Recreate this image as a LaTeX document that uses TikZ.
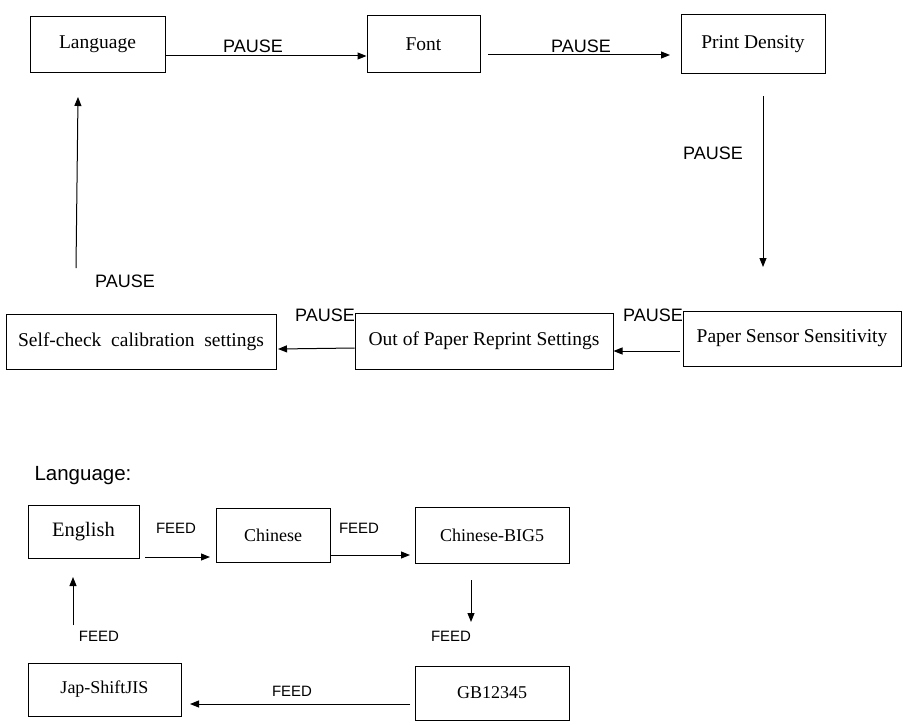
\documentclass[tikz,border=0pt]{standalone}
\usepackage{fontspec}
\setmainfont{Liberation Serif}
\newfontfamily\lab{Liberation Sans}
\usetikzlibrary{arrows.meta}
\begin{document}
\begin{tikzpicture}[x=1pt,y=-1pt,
  box/.style={draw,line width=1pt,inner sep=0pt,font=\fontsize{19.5}{21}\selectfont},
  sbox/.style={draw,line width=1pt,inner sep=0pt,font=\fontsize{18}{20}\selectfont},
  arr/.style={-{Triangle[length=9pt,width=7pt]},line width=1pt},
  pl/.style={font=\lab\fontsize{18}{20}\selectfont},
  fl/.style={font=\lab\fontsize{15}{17}\selectfont}]
\useasboundingbox (0,0) rectangle (909,725);
\node[box,minimum width=135pt,minimum height=55pt] (lang) at (97.5,44.5) {Language};
\node[box,minimum width=113pt,minimum height=56pt] (font) at (423.5,44) {Font};
\node[box,minimum width=144pt,minimum height=58pt] (pd) at (753,44) {Print Density};
\node[box,minimum width=218pt,minimum height=55pt] (ps) at (792,338.5) {Paper Sensor Sensitivity};
\node[box,minimum width=258pt,minimum height=56pt] (op) at (484,341) {Out of Paper Reprint Settings};
\node[box,minimum width=270pt,minimum height=55pt] (sc) at (141,341.5) {Self-check\ \ calibration\ \ settings};
\draw[arr] (165,56) -- (font.west|-0,56);
\node[pl] at (253,46) {PAUSE};
\coordinate (a1) at (488,55); \coordinate (a2) at (670,55);
\draw[arr] (a1) -- (a2); \node[pl] at (581,46) {PAUSE};
\coordinate (b1) at (763,96); \coordinate (b2) at (763,267);
\draw[arr] (b1) -- (b2); \node[pl] at (713,153) {PAUSE};
\coordinate (c1) at (680,351);
\draw[arr] (c1) -- (op.east|-0,351); \node[pl] at (653,315) {PAUSE};
\coordinate (d2) at (278,349);
\draw[arr] (op.west|-0,348) -- (d2); \node[pl] at (325,315) {PAUSE};
\coordinate (e1) at (76,268); \coordinate (e2) at (78,97);
\draw[arr] (e1) -- (e2); \node[pl] at (125,281) {PAUSE};
\node[font=\lab\fontsize{20.5}{22}\selectfont] (lt) at (83,476) {Language:};
\node[sbox,minimum width=111pt,minimum height=53pt,font=\fontsize{20.5}{22}\selectfont] (en) at (83.5,531.5) {English};
\node[sbox,minimum width=114pt,minimum height=54pt] (cn) at (273,535) {Chinese};
\node[sbox,minimum width=154pt,minimum height=56pt] (b5) at (492,535) {Chinese-BIG5};
\node[sbox,minimum width=154pt,minimum height=54pt] (gb) at (492,693) {GB12345};
\node[sbox,minimum width=153pt,minimum height=53pt] (js) at (104.5,689.5) {Jap-ShiftJIS};
\coordinate (f1) at (145,557); \coordinate (f2) at (210,557);
\draw[arr] (f1) -- (f2); \node[fl] at (176,528) {FEED};
\coordinate (g2) at (410,555);
\draw[arr] (cn.east|-0,555) -- (g2); \node[fl] at (359,528) {FEED};
\coordinate (h1) at (471,580); \coordinate (h2) at (471,622);
\draw[arr] (h1) -- (h2); \node[fl] at (451,636) {FEED};
\coordinate (i1) at (410,704); \coordinate (i2) at (190,704);
\draw[arr] (i1) -- (i2); \node[fl] at (292,691) {FEED};
\coordinate (j1) at (73,625); \coordinate (j2) at (73,577);
\draw[arr] (j1) -- (j2); \node[fl] at (99,636) {FEED};
\end{tikzpicture}
\end{document}
